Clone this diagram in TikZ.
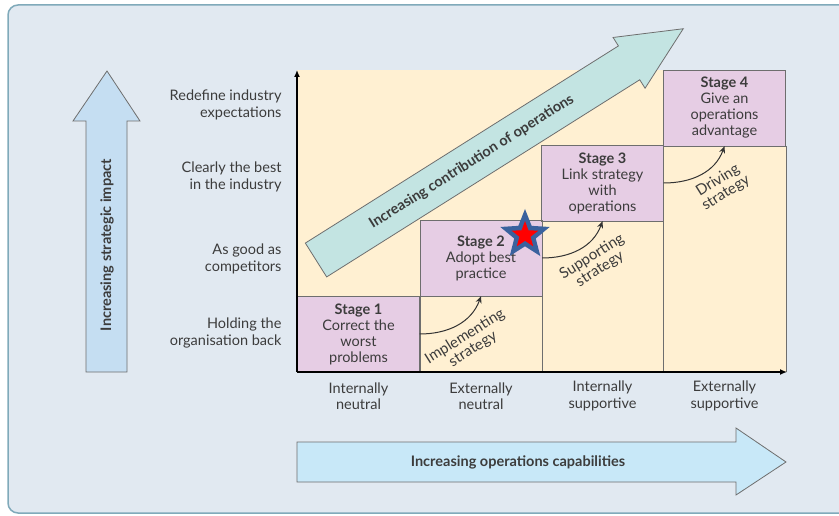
\documentclass[tikz,border=0pt]{standalone}
\usepackage{fontspec}
\setmainfont{Lato}
\usetikzlibrary{shapes.geometric,arrows.meta}
\definecolor{bgblue}{RGB}{225,233,241}
\definecolor{frameblue}{RGB}{128,170,186}
\definecolor{cream}{RGB}{255,240,210}
\definecolor{lilac}{RGB}{230,205,228}
\definecolor{boxgrey}{RGB}{110,110,110}
\definecolor{txtgrey}{RGB}{60,60,60}
\definecolor{upblue}{RGB}{197,222,242}
\definecolor{rightblue}{RGB}{200,232,248}
\definecolor{contribteal}{RGB}{195,228,226}
\definecolor{starblue}{RGB}{58,98,158}
\tikzset{
  stagebox/.style={draw=boxgrey, fill=lilac, minimum width=122pt, minimum height=76pt,
    inner sep=0pt, align=center, text=txtgrey, font=\fontsize{14.5}{16}\selectfont},
  levellabel/.style={anchor=east, align=right, text=txtgrey, font=\fontsize{14.5}{16.5}\selectfont},
  collabel/.style={align=center, text=txtgrey, font=\fontsize{14.5}{16.5}\selectfont},
  bigarrow/.style={draw=boxgrey, line width=0.8pt},
  arrowlabel/.style={text=txtgrey, font=\bfseries\fontsize{14.5}{16}\selectfont},
  stratlabel/.style={rotate=32, align=center, text=txtgrey, font=\fontsize{15}{15}\selectfont},
  steparrow/.style={-{Stealth[length=7pt,width=6pt]}, line width=1pt, black!80}
}
\begin{document}
\begin{tikzpicture}[x=1pt,y=1pt]
\useasboundingbox (0,0) rectangle (839,515);
% frame
\draw[frameblue, line width=1.5pt, fill=bgblue, rounded corners=10pt] (8,2) rectangle (860,510);
% chart area
\fill[cream] (297,143) rectangle (786,445);
% up arrow
\draw[bigarrow, fill=upblue] (86,143) -- (127,143) -- (127,394) -- (140,394) -- (107,444) -- (73,394) -- (86,394) -- cycle;
\node[arrowlabel, rotate=90] (impact) at (107,270) {Increasing strategic impact};
% right arrow
\draw[bigarrow, fill=rightblue] (297,33) -- (736,33) -- (736,20) -- (786,53) -- (736,87) -- (736,73) -- (297,73) -- cycle;
\node[arrowlabel] (capab) at (518,53) {Increasing operations capabilities};
% stages
\node[stagebox] (s1) at (358.5,181) {\textbf{Stage 1}\\Correct the\\worst\\problems};
\node[stagebox] (s2) at (481,257) {\textbf{Stage 2}\\Adopt best\\practice};
\node[stagebox] (s3) at (602.5,332) {\textbf{Stage 3}\\Link strategy\\with\\operations};
\node[stagebox] (s4) at (724.5,407) {\textbf{Stage 4}\\Give an\\operations\\advantage};
\draw[boxgrey, line width=0.8pt] (420,143) -- (420,219);
\draw[boxgrey, line width=0.8pt] (542,143) -- (542,295);
\draw[boxgrey, line width=0.8pt] (663,143) -- (663,369);
\draw[boxgrey, line width=0.8pt] (786,143) -- (786,369);
% axes
\draw[line width=1.3pt, -{Latex[length=7pt,width=6pt]}] (297,143) -- (297,445);
\draw[line width=1.3pt, -{Latex[length=7pt,width=6pt]}] (297,143) -- (787,143);
% contribution arrow
\begin{scope}[shift={(316,255)}, rotate=32.2]
\draw[bigarrow, fill=contribteal] (0,-20) -- (370,-20) -- (370,-30) -- (434,0) -- (370,30) -- (370,20) -- (0,20) -- cycle;
\node[arrowlabel, rotate=32.2] (contrib) at (184,0) {Increasing contribution of operations};
\end{scope}
% level labels
\node[levellabel] (l4) at (285,410) {Redefine industry\\expectations};
\node[levellabel] (l3) at (285,338) {Clearly the best\\in the industry};
\node[levellabel] (l2) at (285,256) {As good as\\competitors};
\node[levellabel] (l1) at (285,182) {Holding the\\organisation back};
% column labels
\node[collabel] (c1) at (358.5,119) {Internally\\neutral};
\node[collabel] (c2) at (481,119) {Externally\\neutral};
\node[collabel] (c3) at (602.5,119) {Internally\\supportive};
\node[collabel] (c4) at (724.5,119) {Externally\\supportive};
% strategy steps
\draw[steparrow] (s1.east) to[out=0, in=-110] (s2.south);
\draw[steparrow] (s2.east) to[out=0, in=-110] (s3.south);
\draw[steparrow] (s3.east) to[out=0, in=-110] (s4.south);
\node[stratlabel] (implement) at (469,172) {Implementing\\strategy};
\node[stratlabel] (support) at (596,252) {Supporting\\strategy};
\node[stratlabel] (drive) at (722,328) {Driving\\strategy};
% star
\node[star, star points=5, star point ratio=2.3, minimum size=52pt, inner sep=0pt, fill=starblue] (bigstar) at (525,280) {};
\node[star, star points=5, star point ratio=2.4, minimum size=28pt, inner sep=0pt, fill=red] (redstar) at (525,280) {};
\end{tikzpicture}
\end{document}
